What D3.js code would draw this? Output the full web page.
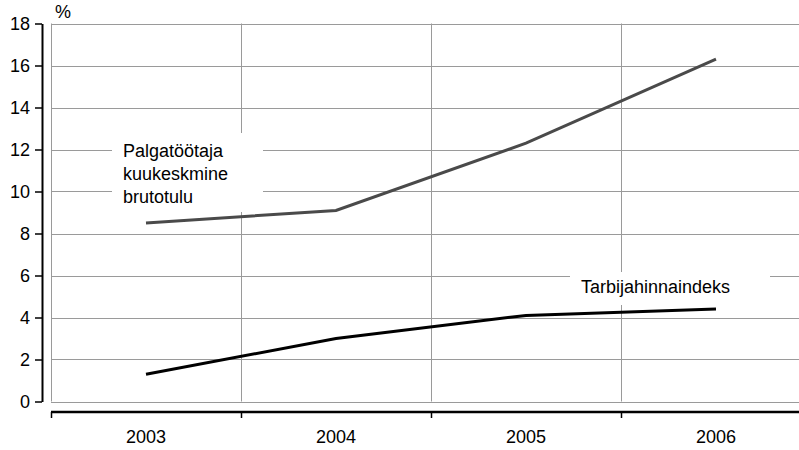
<!DOCTYPE html>
<html><head><meta charset="utf-8">
<script src="https://cdn.jsdelivr.net/npm/d3@7"></script>
<style>body{margin:0;background:#fff}svg{display:block;font-family:"Liberation Sans",Arial,sans-serif}</style>
</head><body><svg id="c" width="799" height="450"></svg>
<script>
const years = ["2003","2004","2005","2006"];
const wages = [8.5, 9.1, 12.3, 16.3];
const cpi = [1.3, 3.0, 4.1, 4.4];
const yTicks = [0,2,4,6,8,10,12,14,16,18];
const wageLabel = ["Palgatöötaja","kuukeskmine","brutotulu"];
const cpiLabel = ["Tarbijahinnaindeks"];

const FONT = '"Liberation Sans",Arial,sans-serif';
const FS = 18;
const svg = d3.select("#c");
const x = d3.scaleBand().domain(years).range([51, 811]).paddingInner(0).paddingOuter(0);
const y = d3.scaleLinear().domain([0,18]).range([401.5, 23.5]);
const W = 799;

// horizontal grid
svg.append("g").selectAll("line").data(yTicks).join("line")
  .attr("x1", 51).attr("x2", W).attr("y1", d=>Math.round(y(d))+0.5).attr("y2", d=>Math.round(y(d))+0.5)
  .attr("stroke", "#9a9a9a").attr("stroke-width", 1);
// vertical grid at band edges
svg.append("g").selectAll("line").data(years).join("line")
  .attr("x1", d=>Math.round(x(d))+0.5).attr("x2", d=>Math.round(x(d))+0.5)
  .attr("y1", y(18)).attr("y2", y(0))
  .attr("stroke", "#9a9a9a").attr("stroke-width", 1);

// label boxes
svg.append("rect").attr("x",112).attr("y",133).attr("width",151).attr("height",79).attr("fill","#fff");
svg.append("rect").attr("x",570).attr("y",272).attr("width",200).attr("height",33).attr("fill","#fff");

// y axis
const ya = svg.append("g").attr("transform","translate(42,0)")
  .call(d3.axisLeft(y).tickValues(yTicks).tickSize(7).tickSizeOuter(0).tickPadding(5));
ya.attr("font-family", FONT);
ya.select(".domain").attr("stroke","#000").attr("stroke-width",2);
ya.selectAll(".tick line").attr("stroke","#000").attr("stroke-width",1.5);
ya.selectAll("text").attr("font-size",FS).attr("fill","#000");

// x axis
svg.append("line").attr("x1",51).attr("x2",W).attr("y1",412).attr("y2",412).attr("stroke","#000").attr("stroke-width",2.5);
svg.append("g").selectAll("line").data(years).join("line")
  .attr("x1", d=>Math.round(x(d))+0.5).attr("x2", d=>Math.round(x(d))+0.5)
  .attr("y1", 412).attr("y2", 418).attr("stroke","#000").attr("stroke-width",1.5);
const xa = svg.append("g").attr("transform","translate(0,412)").call(d3.axisBottom(x).tickSize(0).tickPadding(18));
xa.attr("font-family", FONT);
xa.select(".domain").remove();
xa.selectAll("text").attr("font-size",FS).attr("fill","#000");

// % unit
svg.append("text").attr("x",55).attr("y",18).attr("font-size",FS).text("%");

// lines
const line = d3.line().x((d,i)=>x(years[i])+x.bandwidth()/2).y(d=>y(d));
svg.append("path").datum(wages).attr("d",line).attr("fill","none").attr("stroke","#4a4a4a").attr("stroke-width",3);
svg.append("path").datum(cpi).attr("d",line).attr("fill","none").attr("stroke","#000").attr("stroke-width",3);

// labels
svg.append("g").selectAll("text").data(wageLabel).join("text")
  .attr("x",123).attr("y",(d,i)=>157+i*23).attr("font-size",FS).text(d=>d);
svg.append("text").attr("x",581).attr("y",293).attr("font-size",FS).text(cpiLabel[0]);
</script></body></html>
